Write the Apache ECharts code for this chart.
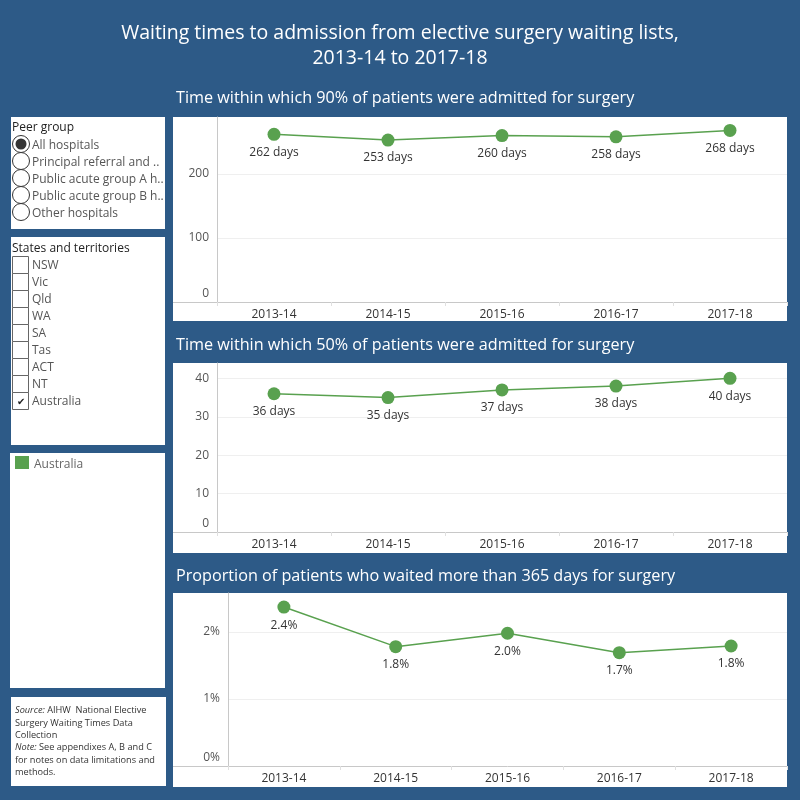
<!DOCTYPE html>
<html>
<head>
<meta charset="utf-8">
<title>Waiting times to admission</title>
<script src="https://cdn.jsdelivr.net/npm/echarts@6/dist/echarts.min.js"></script>
<style>
  html, body { margin: 0; padding: 0; background: #2d5a87; }
  #main { width: 800px; height: 800px; }
</style>
</head>
<body>
<div id="main"></div>
<script>
// data
var years = ['2013-14', '2014-15', '2015-16', '2016-17', '2017-18'];
var days90 = [262, 253, 260, 258, 268];
var days50 = [36, 35, 37, 38, 40];
var over365 = [2.37, 1.78, 1.98, 1.69, 1.79];
var peerGroups = ['All hospitals', 'Principal referral and ..', 'Public acute group A h..', 'Public acute group B h..', 'Other hospitals'];
var states = ['NSW', 'Vic', 'Qld', 'WA', 'SA', 'Tas', 'ACT', 'NT', 'Australia'];

var FONT = '"Open Sans", sans-serif';
var BLUE = '#2d5a87';
var GREEN = '#59a14f';
var AXIS = '#c8c8c8';

var chart = echarts.init(document.getElementById('main'));

// panel backgrounds and left-side controls
var g = [];
function rect(x, y, w, h, fill, stroke) {
  g.push({ type: 'rect', z: -10, silent: true, shape: { x: x, y: y, width: w, height: h },
    style: { fill: fill, stroke: stroke || null, lineWidth: 1 } });
}
function text(t, x, y, opt) {
  opt = opt || {};
  g.push({ type: 'text', z: 5, silent: true, x: x, y: y,
    style: { text: t, fill: opt.color || '#333', fontSize: opt.size || 12, fontFamily: FONT,
      fontWeight: opt.weight || 'normal', align: opt.align || 'left', verticalAlign: 'middle',
      rich: opt.rich } });
}

// chart panels
rect(173, 117, 614, 204, '#fff');
rect(173, 363, 614, 190, '#fff');
rect(173, 593, 614, 194, '#fff');
// axis line extension into label area
[[302, 217], [532, 217], [766, 228]].forEach(function (a) {
  g.push({ type: 'line', z: 5, silent: true, shape: { x1: 173, y1: a[0] + 0.5, x2: a[1], y2: a[0] + 0.5 },
    style: { stroke: AXIS, lineWidth: 1 } });
});

// side panels
rect(11, 117, 154, 112, '#fff');
rect(11, 237, 154, 208, '#fff');
rect(10, 453, 155, 235, '#fff');
rect(11, 697, 155, 89, '#fff');

// titles
text('Waiting times to admission from elective surgery waiting lists,', 400, 33, { color: '#fff', size: 19.5, align: 'center' });
text('2013-14 to 2017-18', 400, 58, { color: '#fff', size: 19.5, align: 'center' });
text('Time within which 90% of patients were admitted for surgery', 176, 98, { color: '#fff', size: 16.2 });
text('Time within which 50% of patients were admitted for surgery', 176, 345, { color: '#fff', size: 16.2 });
text('Proportion of patients who waited more than 365 days for surgery', 176, 576, { color: '#fff', size: 16.2 });

// peer group radios
text('Peer group', 12, 128, { color: '#222', size: 12 });
peerGroups.forEach(function (p, i) {
  var cy = 144 + 17 * i;
  g.push({ type: 'circle', z: 4, silent: true, shape: { cx: 21, cy: cy, r: 8.5 },
    style: { fill: '#fff', stroke: '#333', lineWidth: 1 } });
  if (i === 0) {
    g.push({ type: 'circle', z: 5, silent: true, shape: { cx: 21, cy: cy, r: 5.5 }, style: { fill: '#333' } });
  }
  text(p, 32, cy + 1.5, { color: '#555', size: 12 });
});

// states checkboxes
text('States and territories', 12, 248.5, { color: '#222', size: 12 });
states.forEach(function (s, i) {
  var y = 256 + 17 * i;
  g.push({ type: 'rect', z: 4, silent: true, shape: { x: 12.5, y: y + 0.5, width: 16, height: 17 },
    style: { fill: '#fff', stroke: '#666', lineWidth: 1 } });
  text(s, 32, y + 10, { color: '#555', size: 12 });
  if (s === 'Australia') {
    text('\u2714', 20.5, y + 10, { color: '#222', size: 10, align: 'center' });
  }
});

// legend
g.push({ type: 'rect', z: 4, silent: true, shape: { x: 15, y: 456, width: 14, height: 13 }, style: { fill: GREEN } });
text('Australia', 34, 465, { color: '#666', size: 12 });

// source note
var noteRich = { i: { fontStyle: 'italic', fontSize: 9.2, fontFamily: FONT, fill: '#333' } };
var noteLines = ['{i|Source:} AIHW  National Elective', 'Surgery Waiting Times Data', 'Collection',
  '{i|Note:} See appendixes A, B and C', 'for notes on data limitations and', 'methods.'];
noteLines.forEach(function (l, i) {
  text(l, 15, 710.5 + 12.4 * i, { color: '#333', size: 9.2, rich: noteRich });
});

function yAxis(grid, max, interval, suffix) {
  return {
    type: 'value', gridIndex: grid, min: 0, max: max, interval: interval,
    axisLine: { show: true, lineStyle: { color: AXIS } },
    axisTick: { show: false },
    splitLine: { show: true, showMinLine: false, showMaxLine: false, lineStyle: { color: '#efefef' } },
    axisLabel: {
      color: '#555', fontSize: 12, fontFamily: FONT, margin: 8, showMaxLabel: false,
      formatter: function (v) {
        var t = v + suffix;
        return v === 0 ? '{lo|' + t + '}' : t;
      },
      rich: { lo: { padding: [0, 0, 16, 0], color: '#555', fontSize: 12, fontFamily: FONT } }
    }
  };
}
function xAxis(grid) {
  return {
    type: 'category', gridIndex: grid, data: years, boundaryGap: true,
    axisLine: { show: true, lineStyle: { color: AXIS } },
    axisTick: { show: true, length: 4, lineStyle: { color: '#e0e0e0' } },
    axisLabel: { color: '#333', fontSize: 12, fontFamily: FONT, margin: 7 }
  };
}
function series(i, data, fmt) {
  return {
    type: 'line', xAxisIndex: i, yAxisIndex: i, data: data,
    symbol: 'circle', symbolSize: 13,
    itemStyle: { color: GREEN },
    lineStyle: { color: GREEN, width: 1.5 },
    label: { show: true, position: 'bottom', distance: 5.5, color: '#333', fontSize: 12, fontFamily: FONT, formatter: fmt }
  };
}

var option = {
  backgroundColor: BLUE,
  animation: false,
  graphic: g,
  grid: [
    { left: 217, right: 13, top: 117, height: 185 },
    { left: 217, right: 13, top: 363, height: 169 },
    { left: 228, right: 13, top: 593, height: 173 }
  ],
  xAxis: [xAxis(0), xAxis(1), xAxis(2)],
  yAxis: [yAxis(0, 289, 100, ''), yAxis(1, 44, 10, ''), yAxis(2, 2.58, 1, '%')],
  series: [
    series(0, days90, function (p) { return p.value + ' days'; }),
    series(1, days50, function (p) { return p.value + ' days'; }),
    series(2, over365, function (p) { return p.value.toFixed(1) + '%'; })
  ]
};
chart.setOption(option);
</script>
</body>
</html>
